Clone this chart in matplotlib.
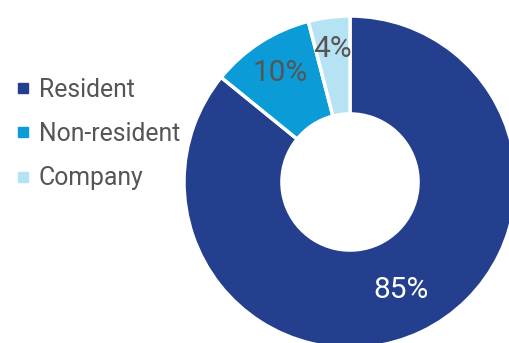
import numpy as np
import matplotlib.pyplot as plt
from matplotlib.lines import Line2D

# Dados do gráfico
categorias = ["Resident", "Non-resident", "Company"]
valores = [85, 10, 4]
rotulos = ["85%", "10%", "4%"]
cores = ["#243f8d", "#0b9cd7", "#b6e3f4"]
cores_texto = ["white", "#555555", "#555555"]

plt.rcParams['font.family'] = ['Roboto', 'DejaVu Sans']

fig = plt.figure(figsize=(5.10, 3.43), dpi=100)

# Eixo do donut (centro ~ (350, 182) px, raio ~166 px)
W, H = 510, 343
cx, cy, r = 350, 182, 166
ax = fig.add_axes([(cx - r) / W, (H - cy - r) / H, 2 * r / W, 2 * r / H])
ax.axis('off')

fatias, _ = ax.pie(
    valores, colors=cores, startangle=90, counterclock=False, radius=1,
    wedgeprops=dict(width=0.59, edgecolor='white', linewidth=2.5),
)
for f in fatias:
    f.set_clip_on(False)
ax.set_xlim(-1, 1)
ax.set_ylim(-1, 1)
ax.set_aspect('equal')

# Rótulos de porcentagem no meio de cada fatia
total = sum(valores)
inicio = 90
dist = [0.72, 0.78, 0.81]
for v, txt, c, d in zip(valores, rotulos, cores_texto, dist):
    ang = inicio - v / total * 360 / 2
    inicio -= v / total * 360
    x = d * np.cos(np.radians(ang))
    y = d * np.sin(np.radians(ang))
    ax.text(x, y, txt, ha='center', va='center', color=c, fontsize=21.5,
            clip_on=False)

# Legenda
handles = [Line2D([0], [0], marker='s', linestyle='', markersize=7.5,
                  markerfacecolor=c, markeredgecolor=c) for c in cores]
leg = fig.legend(handles, categorias, loc='upper left',
                 bbox_to_anchor=(-0.014, 0.838), frameon=False,
                 handlelength=0.62, handletextpad=0.33, labelspacing=0.82,
                 prop={'size': 17.8})
for t in leg.get_texts():
    t.set_color('#555555')

fig.savefig("out.png", dpi=100)
